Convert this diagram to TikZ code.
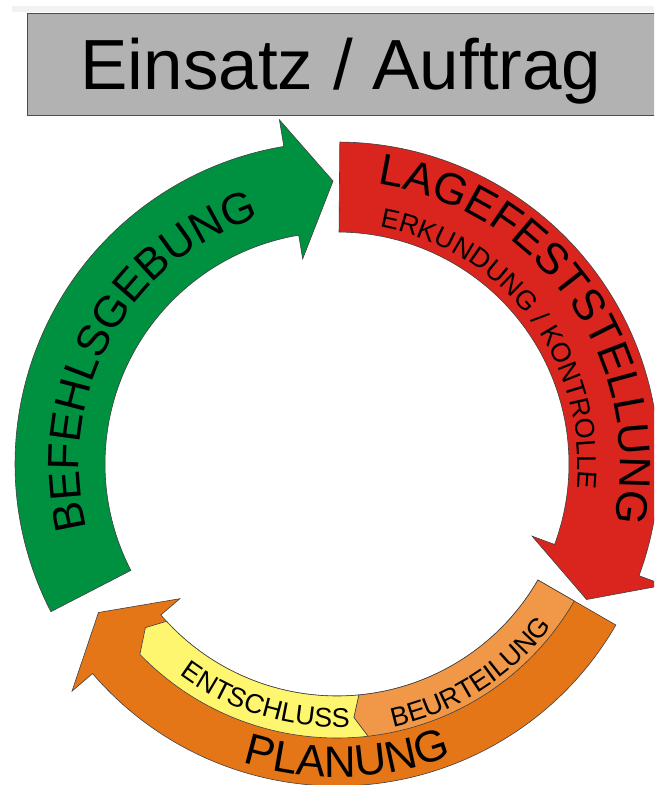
\documentclass[tikz,border=0pt]{standalone}
\usepackage{fontspec}
\setmainfont{Liberation Sans}
\usetikzlibrary{decorations.text}

\definecolor{befehlgreen}{RGB}{0,145,64}
\definecolor{lagered}{RGB}{217,37,30}
\definecolor{planorange}{RGB}{228,118,24}
\definecolor{beurtorange}{RGB}{240,152,72}
\definecolor{entschyellow}{RGB}{255,246,112}
\definecolor{titlegray}{RGB}{178,178,178}
\definecolor{inkblack}{RGB}{26,26,26}

\newcommand\titlefont{\fontsize{71}{71}\selectfont}
\newcommand\ringfont{\fontsize{44}{44}\selectfont}
\newcommand\subfont{\fontsize{27}{27}\selectfont}

\begin{document}
\begin{tikzpicture}[x=1pt,y=1pt,
	titlebox/.style={draw=black!70, fill=titlegray, line width=0.8pt},
	phase/.style={draw=black!75, line width=0.6pt},
	ringtext/.style={decorate, text=inkblack, decoration={text along path, text align=center, text={#1}}}
	]
	\useasboundingbox (0,0) rectangle (654,-785);
	\clip (0,0) rectangle (654,-785);

	% title
	\fill[black!5] (12,-6) rectangle (654,-12);
	\node[titlebox, anchor=north west, minimum width=680, minimum height=102] (box) at (27,-13) {};
	\node[anchor=base, inner sep=0] (title) at (341,-89) {\titlefont Einsatz / Auftrag};

	\begin{scope}[shift={(337,-464)}]
	% Befehlsgebung
	\path[phase, fill=befehlgreen]
	(207.3:232) -- (207.3:322) arc[start angle=207.3, end angle=99.5, radius=322]
	-- (99.5:349) -- (90.8:283) -- (99.5:208) -- (99.5:232)
	arc[start angle=99.5, end angle=207.3, radius=232] -- cycle;

	% Lagefeststellung
	\path[phase, fill=lagered]
	(89.5:232) -- (89.5:322) arc[start angle=89.5, end angle=-20.3, radius=322]
	-- (-20.3:349) -- (-28.5:284) -- (-20.3:208) -- (-20.3:232)
	arc[start angle=-20.3, end angle=89.5, radius=232] -- cycle;

	% Planung
	\path[phase, fill=planorange]
	(-30:232) -- (-30:322) arc[start angle=-30, end angle=-139.4, radius=322]
	-- (-139.4:349) -- (-148.1:281) -- (-139.4:207) -- (-139.4:232)
	arc[start angle=-139.4, end angle=-30, radius=232] -- cycle;
	\path[phase, fill=beurtorange]
	(-30:232) -- (-30:274) arc[start angle=-30, end angle=-83.5, radius=274]
	-- (-86.2:254) -- (-84.6:232) arc[start angle=-84.6, end angle=-30, radius=232] -- cycle;
	\path[phase, fill=entschyellow]
	(-84.6:232) -- (-86.2:254) -- (-83.5:274) arc[start angle=-83.5, end angle=-136, radius=274]
	-- (-139.5:252) -- (-137.3:232) arc[start angle=-137.3, end angle=-84.6, radius=232] -- cycle;

	% labels
	\path[ringtext={|\ringfont|BEFEHLSGEBUNG}]
	(205:258) arc[start angle=205, end angle=97, radius=258];
	\path[ringtext={|\ringfont|LAGEFESTSTELLUNG}]
	(88:283) arc[start angle=88, end angle=-18, radius=283];
	\path[ringtext={|\subfont|ERKUNDUNG / KONTROLLE}]
	(88:241) arc[start angle=88, end angle=-14, radius=241];
	\path[ringtext={|\ringfont|PLANUNG}]
	(-125:313) arc[start angle=-125, end angle=-51, radius=313];
	\path[ringtext={|\subfont|ENTSCHLUSS}]
	(-135:263) arc[start angle=-135, end angle=-79, radius=263];
	\path[ringtext={|\subfont|BEURTEILUNG}]
	(-84:269) arc[start angle=-84, end angle=-31, radius=269];
	\end{scope}
\end{tikzpicture}
\end{document}
